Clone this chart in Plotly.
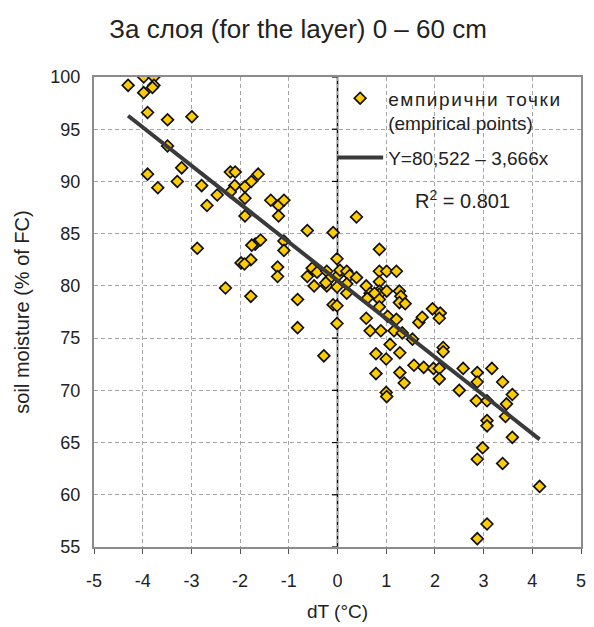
import plotly.graph_objects as go

# ---- data ----
dT = [-4.30, -3.98, -3.77, -3.77, -3.98, -3.80, -3.90, -3.49, -2.99, -3.49,
      -3.90, -3.69, -3.29, -3.20, -2.79, -2.68, -2.47, -2.20, -2.10, -2.11,
      -2.20, -1.90, -1.77, -1.90, -1.90, -1.63, -2.88, -1.69, -1.76, -1.78,
      -1.98, -1.91, -2.30, -1.78, -1.37, -1.21, -1.10, -1.21, 0.39, -0.62,
      -0.09, -1.58, -1.10, -1.10, 0.86, -0.01, -1.23, -1.23, -0.62, -0.52,
      -0.42, -0.22, -0.18, -0.01, 0.05, 0.19, 0.25, 0.39, 0.19, 0.19,
      -0.22, -0.24, -0.48, -0.01, -0.82, -0.09, -0.01, -0.01, -0.82, 0.59,
      0.67, 0.86, 1.01, 1.21, 0.86, 0.86, 0.86, 1.01, 0.76, 0.61,
      0.86, 1.27, 1.30, 1.27, 1.39, 0.86, 1.03, 0.59, 1.21, 0.67,
      0.89, 1.16, 1.33, 1.54, 1.67, 1.74, -0.28, 0.79, 1.08, 1.28,
      1.00, 1.57, 1.77, 0.79, 1.28, 1.37, 1.00, 1.01, 1.95, 2.11,
      2.09, 2.17, 2.17, 1.97, 2.09, 2.09, 2.58, 2.87, 2.87, 3.17,
      3.39, 3.59, 3.47, 3.45, 2.50, 2.85, 3.07, 3.07, 3.07, 3.59,
      2.98, 2.87, 3.39, 4.15, 3.07, 2.87]
moisture = [99.2, 100.0, 100.0, 99.2, 98.5, 99.0, 96.6, 95.9, 96.2, 93.4,
            90.7, 89.4, 90.0, 91.3, 89.6, 87.7, 88.7, 90.9, 90.9, 89.6,
            89.0, 89.5, 90.0, 88.4, 86.7, 90.7, 83.6, 84.0, 83.9, 82.5,
            82.2, 82.1, 79.8, 79.0, 88.2, 87.7, 88.2, 86.7, 86.6, 85.3,
            85.1, 84.4, 84.3, 83.4, 83.5, 82.6, 81.8, 80.9, 80.9, 81.7,
            81.3, 81.4, 80.6, 80.9, 81.5, 81.4, 81.0, 80.8, 80.2, 79.3,
            80.0, 80.3, 80.0, 79.9, 78.7, 78.2, 78.1, 76.4, 76.0, 80.0,
            79.3, 81.4, 81.4, 81.4, 80.4, 79.5, 79.2, 79.5, 79.3, 78.8,
            78.7, 79.5, 79.0, 78.4, 78.3, 78.0, 77.1, 76.9, 76.8, 75.7,
            75.7, 75.7, 75.5, 74.9, 76.5, 77.0, 73.3, 73.5, 74.4, 73.6,
            73.0, 72.4, 72.2, 71.6, 71.7, 70.7, 69.8, 69.4, 77.8, 77.4,
            76.9, 74.1, 73.7, 72.1, 72.1, 71.1, 72.1, 71.7, 70.8, 72.1,
            70.8, 69.6, 68.7, 67.5, 70.0, 69.0, 69.0, 67.1, 66.6, 65.5,
            64.5, 63.4, 63.0, 60.8, 57.2, 55.8]

intercept = 80.522
slope = -3.666
points_name = '<span style="letter-spacing:1.6px">емпирични точки</span><br>(empirical points)'
line_name = "Y=80,522 – 3,666x"
r2_label = "R<sup>2</sup> = 0.801"
title_text = "За слоя (for the layer) 0 – 60 cm"
x_title = "dT (°C)"
y_title = "soil moisture (% of FC)"
x_ticks = list(range(-5, 6))
x_ticklabels = [str(v) for v in x_ticks]   # plain hyphen-minus like the reference
y_ticks = list(range(55, 101, 5))

FONT = "Liberation Sans, Arial, sans-serif"
TXT = "#222222"

line_x = [min(dT), max(dT)]
line_y = [intercept + slope * v for v in line_x]

fig = go.Figure()
fig.add_trace(go.Scatter(
    x=dT, y=moisture, mode="markers", name=points_name, legendgroup="pts",
    marker=dict(symbol="diamond", size=9, color="#FFCC00",
                line=dict(color="#111111", width=1.7)),
))
fig.add_trace(go.Scatter(
    x=line_x, y=line_y, mode="lines", name=line_name, legendgroup="fit",
    line=dict(color="#3a3a3a", width=4),
))

shapes = [
    # white box behind legend (covers gridlines)
    dict(type="rect", xref="paper", yref="paper", x0=0.463, x1=1.0, y0=0.72, y1=1.0,
         fillcolor="white", line=dict(width=0), layer="between"),
    # vertical axis at x = 0
    dict(type="line", xref="x", yref="paper", x0=0, x1=0, y0=0, y1=1,
         line=dict(color="black", width=1.5), layer="between"),
]
for t in y_ticks:
    shapes.append(dict(type="line", xref="x", yref="y", x0=-0.115, x1=0, y0=t, y1=t,
                       line=dict(color="black", width=1.2), layer="between"))

# the page body has an 8px default margin, so the figure is sized/offset for it
fig.update_layout(
    width=586, height=619,
    margin=dict(l=86, r=8, t=69, b=74),
    paper_bgcolor="white", plot_bgcolor="white",
    font=dict(family=FONT, color=TXT, size=18),
    title=dict(text=title_text, x=0.495, xanchor="center", y=0.966, yanchor="middle",
               font=dict(family=FONT, size=26, color=TXT)),
    showlegend=True,
    legend=dict(x=0.489, y=0.995, xanchor="left", yanchor="top",
                bgcolor="rgba(0,0,0,0)", valign="top", traceorder="grouped",
                font=dict(family=FONT, size=19, color=TXT),
                itemwidth=46, tracegroupgap=7),
    shapes=shapes,
    annotations=[dict(text=r2_label, x=1.54, y=88.3, xref="x", yref="y",
                      xanchor="left", yanchor="middle", showarrow=False,
                      font=dict(family=FONT, size=20, color=TXT))],
)

grid = dict(showgrid=True, gridcolor="#a6a6a6", gridwidth=1, griddash="4px,3px",
            zeroline=False, showline=True, linecolor="#8c8c8c", linewidth=2, mirror=True)

fig.update_xaxes(range=[-5, 5], tickvals=x_ticks, ticktext=x_ticklabels,
                 ticks="outside", ticklen=5,
                 tickcolor="#555555", tickwidth=1.2, ticklabelstandoff=11,
                 tickfont=dict(family=FONT, size=18, color=TXT),
                 title=dict(text=x_title, font=dict(family=FONT, size=19, color=TXT), standoff=15),
                 **grid)
fig.update_yaxes(range=[55, 100], tickvals=y_ticks, ticks="", ticklabelstandoff=8,
                 tickfont=dict(family=FONT, size=18, color=TXT),
                 title=dict(text=y_title, font=dict(family=FONT, size=20, color=TXT), standoff=15),
                 **grid)

fig.write_html("out.html")
